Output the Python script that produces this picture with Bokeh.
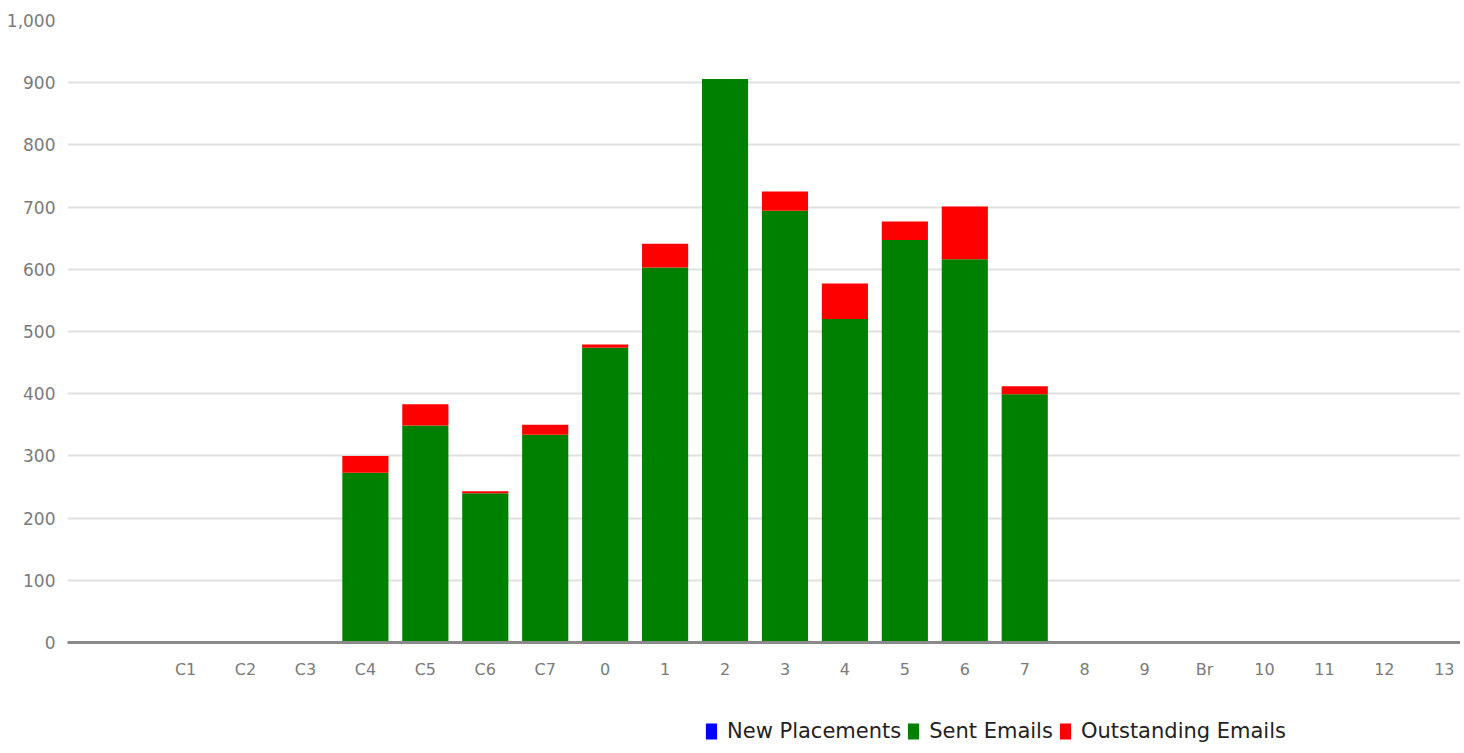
from bokeh.plotting import figure
from bokeh.layouts import column
from bokeh.models import ColumnDataSource, Range1d, FixedTicker, Legend, LegendItem
from bokeh.embed import file_html
from bokeh.resources import INLINE

categories = ["C1", "C2", "C3", "C4", "C5", "C6", "C7", "0", "1", "2", "3",
              "4", "5", "6", "7", "8", "9", "Br", "10", "11", "12", "13"]
new_placements = [0] * 22
sent_emails = [0, 0, 0, 273, 349, 240, 334, 474, 603, 906, 694,
               520, 647, 616, 399, 0, 0, 0, 0, 0, 0, 0]
outstanding_emails = [0, 0, 0, 27, 34, 3, 16, 5, 38, 0, 31,
                      57, 30, 85, 13, 0, 0, 0, 0, 0, 0, 0]
series_names = ["New Placements", "Sent Emails", "Outstanding Emails"]
series_colors = ["#0000ff", "#008000", "#ff0000"]
y_ticks = [0, 100, 200, 300, 400, 500, 600, 700, 800, 900, 1000]

W = 1460
xs = list(range(len(categories)))
source = ColumnDataSource(dict(x=xs, new=new_placements, sent=sent_emails,
                               out=outstanding_emails))

p_main = figure(width=W, height=716, output_backend="svg", toolbar_location=None,
                x_range=Range1d(-1.97, 21.27), y_range=Range1d(0, 1000),
                min_border_left=67, min_border_right=0, min_border_top=20,
                min_border_bottom=74)
p_main.outline_line_color = None
p_main.background_fill_color = "white"
p_main.border_fill_color = "white"

p_main.vbar_stack(["new", "sent", "out"], x="x", width=0.77, source=source,
                  color=series_colors, line_color=None)

# axes
p_main.xaxis.ticker = FixedTicker(ticks=xs)
p_main.xaxis.major_label_overrides = {i: c for i, c in enumerate(categories)}
p_main.xaxis.major_tick_line_color = None
p_main.xaxis.minor_tick_line_color = None
p_main.xaxis.axis_line_color = "#8a8a8a"
p_main.xaxis.axis_line_width = 3
p_main.xaxis.major_label_standoff = 11
p_main.xaxis.major_label_text_font = "DejaVu Sans"
p_main.xaxis.major_label_text_font_size = "16px"
p_main.xaxis.major_label_text_color = "#7a7a7a"

p_main.yaxis.ticker = FixedTicker(ticks=y_ticks)
p_main.yaxis.major_label_overrides = {v: f"{v:,}" for v in y_ticks}
p_main.yaxis.major_tick_line_color = None
p_main.yaxis.minor_tick_line_color = None
p_main.yaxis.axis_line_color = None
p_main.yaxis.major_label_standoff = 6
p_main.yaxis.major_label_text_font = "DejaVu Sans"
p_main.yaxis.major_label_text_font_size = "17px"
p_main.yaxis.major_label_text_color = "#7a7a7a"

p_main.xgrid.grid_line_color = None
p_main.ygrid.ticker = FixedTicker(ticks=y_ticks)
p_main.ygrid.grid_line_color = "#e0e0e0"
p_main.ygrid.grid_line_width = 2

# legend strip below the chart (same series, renderers hidden in this strip)
p_leg = figure(width=W, height=29, output_backend="svg", toolbar_location=None,
               x_range=Range1d(1000, 1001), y_range=Range1d(-2, -1),
               min_border_left=0, min_border_right=0, min_border_top=0,
               min_border_bottom=0)
p_leg.axis.visible = False
p_leg.grid.visible = False
p_leg.outline_line_color = None
p_leg.border_fill_color = "white"
leg_renderers = p_leg.vbar_stack(["new", "sent", "out"], x="x", width=0.77, source=source,
                                 color=series_colors, line_color=None, visible=False)
legend = Legend(items=[LegendItem(label=n, renderers=[r]) for n, r in zip(series_names, leg_renderers)],
                orientation="horizontal", location=(637, 2),
                padding=0, margin=0, spacing=5, label_standoff=9,
                glyph_width=14, glyph_height=20,
                inactive_fill_alpha=0,
                border_line_color=None, background_fill_alpha=0,
                label_text_font="DejaVu Sans", label_text_font_size="21px",
                label_text_color="#222222")
p_leg.add_layout(legend, "center")

p = column(p_main, p_leg, spacing=0)

open("out.html", "w").write(file_html(p, INLINE))
